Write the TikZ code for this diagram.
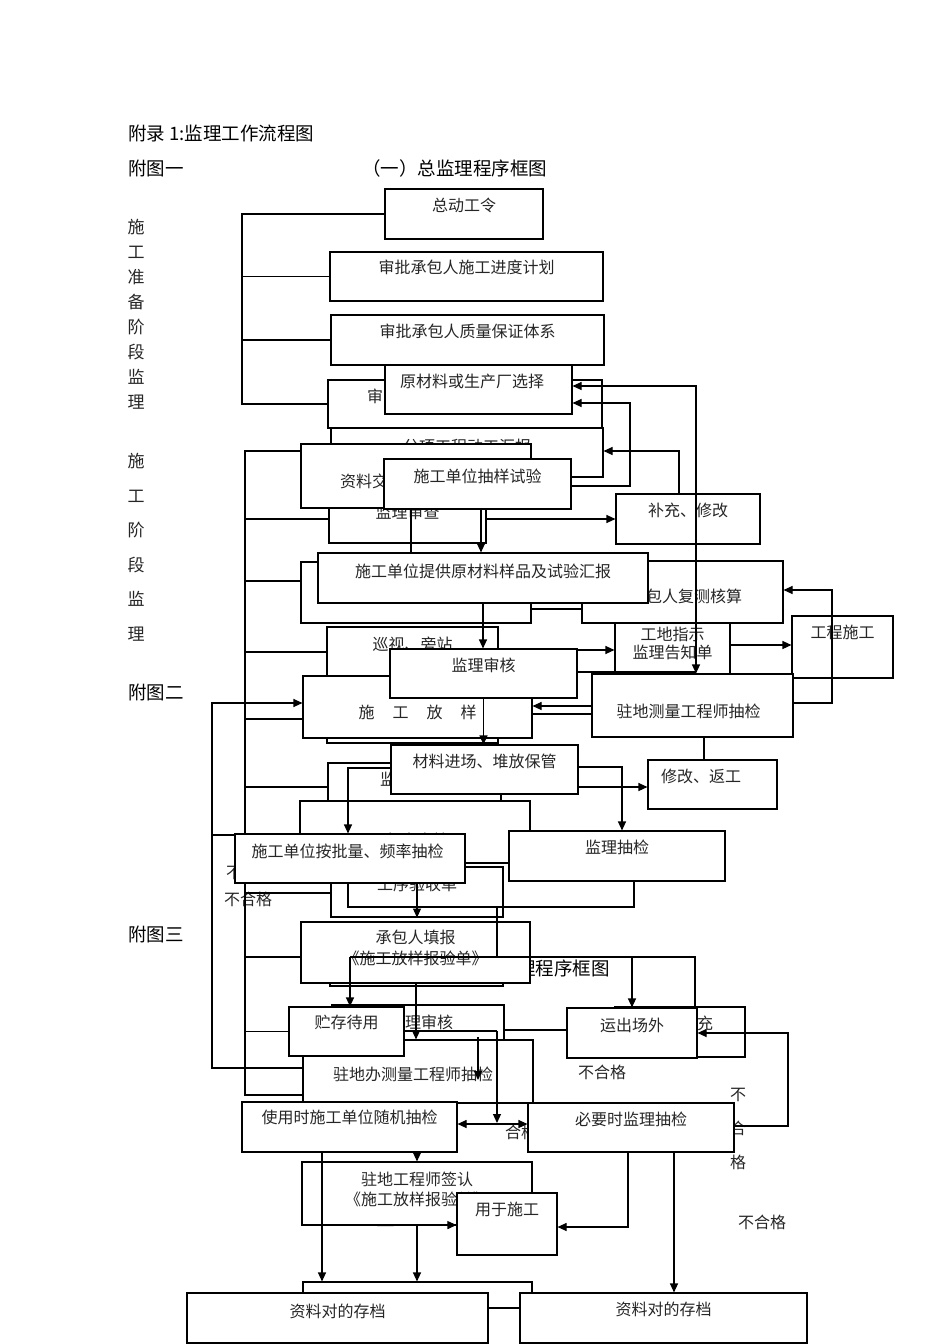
\documentclass[tikz,border=0pt]{standalone}
\usepackage{fontspec}
\setmainfont{Noto Sans CJK SC}
\usetikzlibrary{arrows.meta}
\tikzset{
  box-w/.style={draw,fill=white,line width=1.1pt,inner sep=0pt},
  txt-b/.style={font=\fontsize{16}{19}\selectfont,anchor=center,inner sep=0pt,align=center,text=black!85},
  txt-h/.style={font=\fontsize{18.5}{22}\selectfont,inner sep=0pt,anchor=west},
  txt-v/.style={font=\fontsize{17}{25}\selectfont,inner sep=0pt,align=center,text=black!85},
  txt-n/.style={font=\fontsize{16}{19}\selectfont,inner sep=0pt,text=black!85},
  arr/.style={-{Triangle[length=9pt,width=8pt]},line width=1.1pt},
  arr2/.style={{Triangle[length=9pt,width=8pt]}-{Triangle[length=9pt,width=8pt]},line width=1.1pt},
  lnk/.style={line width=1.1pt},
}
\begin{document}
\begin{tikzpicture}[x=1pt,y=-1pt]
  \fill[white] (0,0) rectangle (950,1344);
  \useasboundingbox (0,0) rectangle (950,1344);

  % titles
  \node[txt-h] (t-fl) at (128,133) {附录 1:监理工作流程图};
  \node[txt-h] (t-f1) at (128,168) {附图一};
  \node[txt-h] (t-k1) at (362,168) {（一）总监理程序框图};
  \node[txt-h] (t-f2) at (128,692) {附图二};
  \node[txt-h] (t-f3) at (128,934) {附图三};
  \node[txt-v] (s-zb) at (136,314.5) {施\\工\\准\\备\\阶\\段\\监\\理};
  \node[txt-v,font=\fontsize{17}{34.5}\selectfont] (s-sg) at (136,547) {施\\工\\阶\\段\\监\\理};

  % FIG 1: preparation stage
  \node[box-w,minimum width=158pt,minimum height=50pt,label={[txt-b,yshift=-17pt]north:总动工令}] (zdgl) at (464,214) {};
  \node[box-w,minimum width=273pt,minimum height=49pt,label={[txt-b,yshift=-16pt]north:审批承包人施工进度计划}] (jdjh) at (466.5,276.5) {};
  \node[box-w,minimum width=273pt,minimum height=50pt,label={[txt-b,yshift=-17pt]north:审批承包人质量保证体系}] (zlbz) at (467.5,340) {};
  \node[box-w,minimum width=274pt,minimum height=48pt,label={[txt-b,yshift=-17pt,xshift=-90pt]north:审}] (spfa) at (465,404) {};
  \node[box-w,minimum width=187pt,minimum height=49pt,label={[txt-b,yshift=-17pt,xshift=-6.5pt]north:原材料或生产厂选择}] (ycl) at (478.5,389.5) {};
  \node[box-w,minimum width=272pt,minimum height=49pt,label={[txt-b,yshift=-19pt]north:分项工程动工汇报}] (fxhb) at (467,452.5) {};

  % FIG 2: construction stage
  \node[box-w,minimum width=157pt,minimum height=48pt,label={[txt-b,yshift=-18pt]north:监理审查}] (jlsc) at (407.5,519) {};
  \node[box-w,minimum width=230pt,minimum height=64pt,label={[txt-b,yshift=-38pt,xshift=-52pt]north:资料交}] (zljd) at (416,476) {};
  \node[box-w,minimum width=187pt,minimum height=50pt,label={[txt-b,yshift=-18pt]north:施工单位抽样试验}] (cysy) at (477.5,484) {};
  \node[box-w,minimum width=144pt,minimum height=50pt,label={[txt-b,yshift=-17pt]north:补充、修改}] (bcxg) at (688,519) {};
  \node[box-w,minimum width=230pt,minimum height=61pt] (bj1) at (416,592.5) {};
  \node[box-w,minimum width=201pt,minimum height=62pt,label={[txt-b,yshift=-36pt,xshift=3.5pt]north:承包人复测核算}] (fchs) at (682.5,592) {};
  \node[box-w,minimum width=330pt,minimum height=50pt,label={[txt-b,yshift=-19pt]north:施工单位提供原材料样品及试验汇报}] (tgyp) at (483,578) {};
  \node[box-w,minimum width=115pt,minimum height=52pt,label={[txt-b,yshift=-21pt]north:{工地指示\\[-1pt]监理告知单}}] (gdzs) at (672.5,649) {};
  \node[box-w,minimum width=101pt,minimum height=62pt,label={[txt-b,yshift=-17pt]north:工程施工}] (gcsg) at (842.5,647) {};
  \node[box-w,minimum width=171pt,minimum height=116pt,label={[txt-b,yshift=-18pt]north:巡视、旁站}] (xsbz) at (412.5,685) {};
  \node[box-w,minimum width=229pt,minimum height=62pt,label={[txt-b,yshift=-37pt]north:施\hspace{18pt}工\hspace{18pt}放\hspace{18pt}样}] (sgfy) at (417.5,707) {};
  \node[box-w,minimum width=187pt,minimum height=49pt,label={[txt-b,yshift=-17pt]north:监理审核}] (jlsh1) at (483.5,673.5) {};
  \node[box-w,minimum width=201pt,minimum height=63pt,label={[txt-b,yshift=-38pt,xshift=-4pt]north:驻地测量工程师抽检}] (zdcl) at (692.5,705.5) {};
  \node[box-w,minimum width=173pt,minimum height=38pt,label={[txt-b,yshift=-17pt,xshift=-26.5pt]north:监}] (jl2) at (414.5,782) {};
  \node[box-w,minimum width=187pt,minimum height=49pt,label={[txt-b,yshift=-17pt]north:材料进场、堆放保管}] (clbg) at (484.5,769.5) {};
  \node[box-w,minimum width=129pt,minimum height=49pt,label={[txt-b,yshift=-17pt,xshift=-11.5pt]north:修改、返工}] (xgfg) at (712.5,784.5) {};
  \node[box-w,minimum width=230pt,minimum height=62pt,label={[txt-b,yshift=-40pt,xshift=-6pt]north:承包人自检}] (cbzj) at (415,832) {};
  \node[box-w,minimum width=216pt,minimum height=50pt,label={[txt-b,yshift=-17pt]north:监理抽检}] (jlcj) at (617,856) {};
  \node[box-w,minimum width=172pt,minimum height=50pt,label={[txt-b,yshift=-18pt]north:工序验收单}] (gxys) at (417,892) {};
  \node[txt-n,anchor=west] (bh1) at (226,872) {不合格};
  \node[box-w,minimum width=230pt,minimum height=49pt,label={[txt-b,yshift=-18pt,xshift=-2.5pt]north:施工单位按批量、频率抽检}] (plcj) at (350,858.5) {};
  \node[txt-n] (bh2) at (248,899) {不合格};

  % FIG 3
  \node[box-w,minimum width=173pt,minimum height=61pt] (sd2) at (416.5,955.5) {};
  \node[txt-h,anchor=east] (t-k2) at (610,968) {理程序框图};
  \node[box-w,minimum width=229pt,minimum height=61pt,label={[txt-b,yshift=-26.5pt]north:{承包人填报\\[2pt]《施工放样报验单》}}] (cbtb) at (415.5,952.5) {};
  \node[box-w,minimum width=172pt,minimum height=55pt,label={[txt-b,yshift=-18pt,xshift=3pt]north:监理审核}] (jlsh2) at (418,1032.5) {};
  \node[box-w,minimum width=230pt,minimum height=63pt,label={[txt-b,yshift=-35pt,xshift=-5pt]north:驻地办测量工程师抽检}] (zdb) at (418,1071.5) {};
  \node[box-w,minimum width=115pt,minimum height=49pt,label={[txt-b,yshift=-16pt]north:贮存待用}] (zcdy) at (346.5,1031.5) {};
  \node[box-w,minimum width=130pt,minimum height=50pt,label={[txt-b,yshift=-17pt,xshift=17pt]north:补充}] (bc2) at (680,1032) {};
  \node[box-w,minimum width=130pt,minimum height=50pt,label={[txt-b,yshift=-18pt]north:运出场外}] (yccw) at (632,1033) {};
  \node[txt-n] (bh3) at (602,1072) {不合格};
  \node[txt-n] (hg1) at (521,1132) {合格};
  \node[txt-v,font=\fontsize{16}{34}\selectfont] (bh4) at (738,1129) {不\\合\\格};
  \node[txt-n] (bh5) at (762,1222) {不合格};
  \node[box-w,minimum width=215pt,minimum height=50pt,label={[txt-b,yshift=-16pt]north:使用时施工单位随机抽检}] (sysj) at (349.5,1127) {};
  \node[box-w,minimum width=206pt,minimum height=49pt,label={[txt-b,yshift=-17pt]north:必要时监理抽检}] (bysj) at (631,1127.5) {};
  \node[box-w,minimum width=230pt,minimum height=63pt,label={[txt-b,yshift=-28pt]north:{驻地工程师签认\\[1pt]《施工放样报验单》}}] (zdqr) at (417,1193.5) {};
  \node[box-w,minimum width=100pt,minimum height=62pt,label={[txt-b,yshift=-17pt]north:用于施工}] (yysg) at (507,1224) {};
  \node[box-w,minimum width=229pt,minimum height=26pt] (bk3) at (417.5,1295) {};
  \node[box-w,minimum width=301pt,minimum height=50pt,label={[txt-b,yshift=-19pt]north:资料对的存档}] (zlcd1) at (337.5,1318) {};
  \node[box-w,minimum width=287pt,minimum height=50pt,label={[txt-b,yshift=-17pt]north:资料对的存档}] (zlcd2) at (663.5,1318) {};

  % junctions
  \coordinate (r1) at (242,0);
  \coordinate (r2) at (245,0);
  \coordinate (r3) at (212,0);
  \coordinate (k1) at (630,403);
  \coordinate (k2) at (696,672);
  \coordinate (k3) at (832,590);
  \coordinate (k4) at (348,907);
  \coordinate (k5) at (497,907);
  \coordinate (k6) at (497,957);
  \coordinate (k7) at (350,957);
  \coordinate (k8) at (695,957);
  \coordinate (k9) at (632,957);
  \coordinate (k10) at (497,1031);
  \coordinate (k11) at (497,1123);
  \coordinate (k12) at (478,1037);
  \coordinate (k13) at (478,1080);
  \coordinate (k14) at (788,1033);

  % brackets
  \draw[lnk] (zdgl.west) -| (r1 |- spfa.west) -- (spfa.west);
  \draw[lnk] (jdjh.west) -- (r1 |- jdjh.west);
  \draw[lnk] (zlbz.west) -- (r1 |- zlbz.west);
  \draw[lnk] (zljd.west |- 0,451) -| (r2 |- plcj.north);
  \draw[lnk] (r2 |- plcj.south) |- (zdb.west |- 0,1095);
  \draw[lnk] (jlsc.west) -- (r2 |- jlsc.west);
  \draw[lnk] (bj1.west |- 0,581) -- (r2 |- 0,581);
  \draw[lnk] (xsbz.west |- 0,652) -- (r2 |- 0,652);
  \draw[lnk] (sgfy.west |- 0,719) -- (r2 |- 0,719);
  \draw[lnk] (jl2.west |- 0,787) -- (r2 |- 0,787);
  \draw[lnk] (gxys.west |- 0,893) -- (r2 |- 0,893);
  \draw[lnk] (cbtb.west |- 0,957) -- (r2 |- 0,957);
  \draw[lnk] (zcdy.west) -- (r2 |- zcdy.west);
  \draw[arr] (zdb.west |- 0,1068) -| (r3 |- 0,703) -- (sgfy.west |- 0,703);
  \draw[lnk] (r3 |- 0,835) -- (plcj.west |- 0,835);

  % connectors
  \draw[arr2] (ycl.east |- 0,386) -| (zdcl.north -| 696,0);
  \draw[arr] (cysy.east |- 0,486) -| (k1) -- (ycl.east |- k1);
  \draw[arr] (bcxg.north -| 679,0) |- (fxhb.east |- 0,451);
  \draw[arr] (jlsc.east) -- (bcxg.west);
  \draw[arr] (cysy.south -| 481,0) -- (tgyp.north -| 481,0);
  \draw[lnk] (zljd.south -| 411,0) -- (tgyp.north -| 411,0);
  \draw[arr] (tgyp.south) -- (tgyp.south |- jlsh1.north);
  \draw[lnk] (bj1.east |- 0,609) -- (fchs.west |- 0,609);
  \draw[arr] (jlsh1.east |- 0,650) -- (gdzs.west |- 0,650);
  \draw[lnk] (jlsh1.east |- k2) -- (k2);
  \draw[arr] (gdzs.east |- 0,645) -- (gcsg.west |- 0,645);
  \draw[arr] (zdcl.east |- 0,703) -| (k3) -- (fchs.east |- k3);
  \draw[arr] (zdcl.west |- 0,706) -- (sgfy.east |- 0,706);
  \draw[lnk] (zdcl.west |- 0,714) -- (sgfy.east |- 0,714);
  \draw[arr] (jlsh1.south) -- (jlsh1.south |- clbg.north);
  \draw[lnk] (zdcl.south -| 704,0) -- (xgfg.north -| 704,0);
  \draw[arr] (clbg.east |- 0,767) -| (jlcj.north -| 622,0);
  \draw[arr] (clbg.east |- 0,787) -- (xgfg.west |- 0,787);
  \draw[arr] (clbg.west |- 0,768) -| (plcj.north -| 348,0);
  \draw[lnk] (jlcj.south -| 634,0) |- (k4) -- (plcj.south -| k4);
  \draw[arr] (plcj.south -| 417,0) -- (gxys.south -| 417,0);
  \draw[lnk] (k5) -- (k6);
  \draw[lnk] (k7) -- (k8) -- (bc2.north -| k8);
  \draw[arr] (k7) -- (zcdy.north -| k7);
  \draw[arr] (k9) -- (yccw.north);
  \draw[arr] (cbtb.south -| 416,0) -- (zdb.north -| 416,0);
  \draw[lnk] (zcdy.east |- k10) -- (k10);
  \draw[arr] (k10) -- (k11);
  \draw[lnk] (jlsh2.east |- 0,1030) -- (yccw.west |- 0,1030);
  \draw[arr] (k12) -- (k13);
  \draw[arr2] (sysj.east |- 0,1124) -- (bysj.west |- 0,1124);
  \draw[arr] (bysj.east |- 0,1126) -| (k14) -- (yccw.east |- k14);
  \draw[arr] (bysj.south -| 628,0) |- (yysg.east |- 0,1227);
  \draw[arr] (bysj.south -| 674,0) -- (zlcd2.north -| 674,0);
  \draw[arr] (sysj.south -| 417,0) -- (zdqr.north -| 417,0);
  \draw[arr] (sysj.south -| 322,0) -- (bk3.north -| 322,0);
  \draw[arr] (zdqr.south -| 417,0) -- (bk3.north -| 417,0);
  \draw[arr] (zdqr.south -| 377,0) -- (yysg.west |- 0,1225);
\end{tikzpicture}
\end{document}
